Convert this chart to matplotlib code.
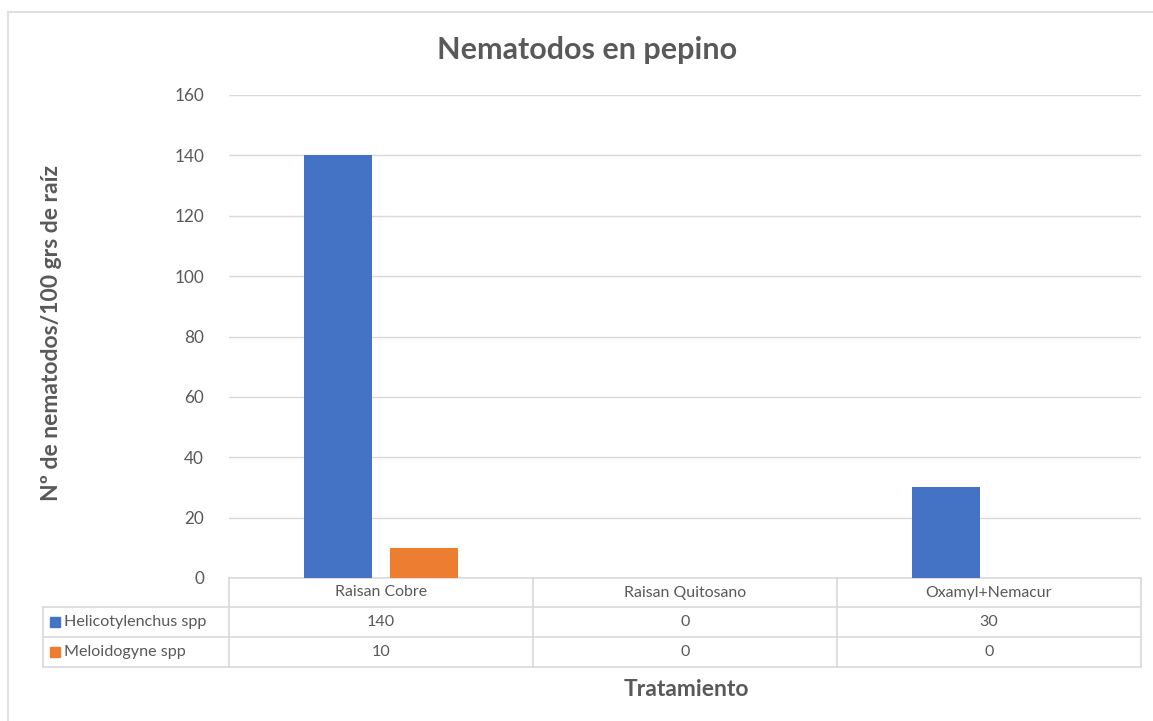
import matplotlib
matplotlib.use("Agg")
import matplotlib.pyplot as plt
from matplotlib.patches import Rectangle
import numpy as np

plt.rcParams['font.family'] = ['Lato', 'DejaVu Sans']

categories = ["Raisan Cobre", "Raisan Quitosano", "Oxamyl+Nemacur"]
series_names = ["Helicotylenchus spp", "Meloidogyne spp"]
helico = [140, 0, 30]
meloido = [10, 0, 0]
colors = ["#4472C4", "#ED7D31"]
yticks = [0, 20, 40, 60, 80, 100, 120, 140, 160]
title = "Nematodos en pepino"
ylabel = "Nº de nematodos/100 grs de raíz"
xlabel = "Tratamiento"

W, H = 1153, 721
fig = plt.figure(figsize=(W / 100, H / 100), dpi=100)

def fx(px):
    return px / W

def fy(py):
    return 1 - py / H

# chart border
fig.patches.append(Rectangle((fx(8), fy(1000)), fx(1200), fy(12) - fy(1000),
                             transform=fig.transFigure, fill=False,
                             edgecolor="#d9d9d9", lw=1.2))

ax_l, ax_r, ax_t, ax_b = 229, 1141, 95, 578
ax = fig.add_axes([fx(ax_l), fy(ax_b), fx(ax_r) - fx(ax_l), fy(ax_t) - fy(ax_b)])

x = np.arange(len(categories))
bw = 0.225
off = 0.142
series = [helico, meloido]
for i, vals in enumerate(series):
    ax.bar(x + (i - 0.5) * 2 * off, vals, width=bw, color=colors[i], zorder=3)

ax.set_xlim(-0.5, len(categories) - 0.5)
ax.set_ylim(0, 160)
ax.set_yticks(yticks)
ax.set_yticklabels([str(t) for t in yticks], fontsize=12.3, color="#595959")
ax.set_xticks([])
ax.tick_params(axis='y', length=0, pad=18)
ax.grid(axis='y', color="#d9d9d9", lw=1.0, zorder=0)
for s in ["top", "right", "left"]:
    ax.spines[s].set_visible(False)
ax.spines["bottom"].set_color("#d9d9d9")
ax.spines["bottom"].set_linewidth(1.2)

# data table
line_c = "#d9d9d9"
tc = "#595959"
rows_y = [578, 607, 637, 667]
col_w = (ax_r - ax_l) / len(categories)
col_x = [ax_l + k * col_w for k in range(len(categories) + 1)]
tleft = 43

def hline(x0, x1, y):
    fig.add_artist(plt.Line2D([fx(x0), fx(x1)], [fy(y), fy(y)], transform=fig.transFigure,
                              color=line_c, lw=1.2))

def vline(xp, y0, y1):
    fig.add_artist(plt.Line2D([fx(xp), fx(xp)], [fy(y0), fy(y1)], transform=fig.transFigure,
                              color=line_c, lw=1.2))

hline(tleft, ax_r, rows_y[1])
hline(tleft, ax_r, rows_y[2])
hline(tleft, ax_r, rows_y[3])
for cx in col_x:
    vline(cx, rows_y[0], rows_y[3])
vline(tleft, rows_y[1], rows_y[3])

for j, c in enumerate(categories):
    cxm = (col_x[j] + col_x[j + 1]) / 2
    fig.text(fx(cxm), fy((rows_y[0] + rows_y[1]) / 2), c, ha="center", va="center",
             fontsize=11.4, color=tc)
for i, vals in enumerate(series):
    ym = (rows_y[i + 1] + rows_y[i + 2]) / 2
    fig.patches.append(Rectangle((fx(50), fy(ym + 5)), fx(10), fy(ym - 5) - fy(ym + 5),
                                 transform=fig.transFigure, color=colors[i]))
    fig.text(fx(64), fy(ym), series_names[i], ha="left", va="center", fontsize=11.6, color=tc)
    for j, v in enumerate(vals):
        cxm = (col_x[j] + col_x[j + 1]) / 2
        fig.text(fx(cxm), fy(ym), str(v), ha="center", va="center", fontsize=11.6, color=tc)

fig.text(fx(587), fy(50), title, ha="center", va="center", fontsize=22, fontweight="bold",
         color=tc)
fig.text(fx(686), fy(689), xlabel, ha="center", va="center", fontsize=16.5, fontweight="bold",
         color=tc)
fig.text(fx(52), fy(333), ylabel, ha="center", va="center", rotation=90, fontsize=16.5,
         fontweight="bold", color=tc)

fig.savefig("out.png", dpi=100)
